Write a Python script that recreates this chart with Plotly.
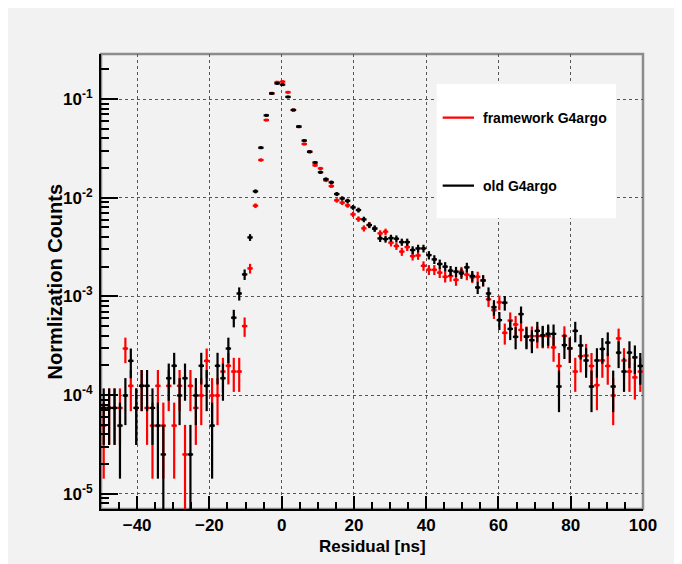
import numpy as np
import plotly.graph_objects as go

# Histogram binning (100 bins, -50 .. 100 ns)
BIN_LO = -50.0
BIN_W = 1.5
N_BINS = 100
UNIT = 2.47e-5  # weight of one entry after normalization (for Poisson error bars)

framework_g4argo = [
    4.9e-5, 7.4e-5, 7.4e-5, 7.4e-5, 2.96e-4, 1.24e-4, 7.4e-5, 1.24e-4, 7.4e-5, 4.9e-5,
    1.24e-4, 4.9e-5, 1.24e-4, 4.9e-5, 1.24e-4, 2.5e-5, 1.24e-4, 7.4e-5, 9.9e-5, 2.22e-4,
    9.9e-5, 9.9e-5, 1.73e-4, 1.98e-4,
    1.73e-4, 1.73e-4, 5.0e-4, 1.92e-3, 8.3e-3, 0.0241, 0.0612, 0.114, 0.148, 0.150,
    0.117, 0.0774, 0.0525, 0.035, 0.0292, 0.0213, 0.0198, 0.0150, 0.0131, 0.0094,
    0.0089, 0.00836, 0.00678, 0.00608, 0.00489, 0.0053, 0.0049, 0.00435, 0.00452, 0.0035,
    0.00324, 0.00284, 0.00316, 0.00256, 0.0026, 0.00204, 0.00186, 0.00186, 0.00174, 0.00158,
    0.00161, 0.00147, 0.00178, 0.00166, 0.00156, 0.00158, 0.00145, 9.33e-4, 7.24e-4, 8.71e-4,
    4.27e-4, 5.69e-4, 5.19e-4, 4.57e-4, 3.96e-4, 3.96e-4, 3.96e-4, 3.96e-4, 3.96e-4, 3.04e-4,
    1.97e-4, 3.98e-4, 2.97e-4, 1.73e-4, 2.48e-4, 2.51e-4, 1.97e-4, 1.26e-4, 2.24e-4, 1.97e-4,
    9.9e-5, 3.75e-4, 2.24e-4, 1.73e-4, 1.51e-4, 1.73e-4,
]

old_g4argo = [
    7.4e-5, 7.4e-5, 7.4e-5, 4.9e-5, 9.9e-5, 2.22e-4, 7.4e-5, 1.24e-4, 1.24e-4, 7.4e-5,
    4.9e-5, 2.5e-5, 1.48e-4, 1.98e-4, 9.9e-5, 1.48e-4, 2.5e-5, 9.9e-5, 1.98e-4, 1.24e-4,
    4.9e-5, 1.98e-4, 1.48e-4, 2.96e-4,
    6.08e-4, 1.07e-3, 1.67e-3, 3.96e-3, 0.0116, 0.0321, 0.0683, 0.114, 0.144, 0.140,
    0.105, 0.0774, 0.0525, 0.0379, 0.0292, 0.0227, 0.0181, 0.0154, 0.0143, 0.0109,
    0.00984, 0.0093, 0.00798, 0.0075, 0.00603, 0.00528, 0.00485, 0.00387, 0.00381, 0.0039,
    0.00384, 0.00355, 0.00355, 0.00295, 0.00306, 0.00306, 0.00262, 0.00237, 0.00213, 0.0020,
    0.00182, 0.00178, 0.00171, 0.00197, 0.00161, 0.00123, 0.00145, 0.00107, 7.76e-4, 5.75e-4,
    8.63e-4, 4.68e-4, 3.89e-4, 6.61e-4, 3.89e-4, 3.6e-4, 4.47e-4, 4.03e-4, 4.17e-4, 4.17e-4,
    1.22e-4, 3.21e-4, 2.97e-4, 4.47e-4, 3.18e-4, 2.24e-4, 1.22e-4, 2.24e-4, 2.93e-4, 3.4e-4,
    1.22e-4, 2.69e-4, 1.73e-4, 2.69e-4, 2.41e-4, 1.97e-4,
]

x_tick_vals = [-40, -20, 0, 20, 40, 60, 80, 100]
y_tick_vals = [1e-5, 1e-4, 1e-3, 1e-2, 1e-1]
y_tick_text = ["10<sup>-5</sup>", "10<sup>-4</sup>", "10<sup>-3</sup>",
               "10<sup>-2</sup>", "10<sup>-1</sup>"]
y_minor_vals = [k * 10.0 ** e for e in range(-6, 0) for k in range(2, 10)]

centers = BIN_LO + BIN_W * (np.arange(N_BINS) + 0.5)
half_w = np.full(N_BINS, BIN_W / 2)

FONT = "Liberation Sans, Arial, Helvetica, sans-serif"


def hist_trace(vals, color, name):
    v = np.array(vals)
    err = np.sqrt(v * UNIT)
    err_minus = np.minimum(err, v - 1e-8)
    return go.Scatter(
        x=centers, y=v, mode="markers", name=name, showlegend=False,
        marker=dict(size=3, color=color, symbol="square"),
        error_x=dict(type="data", array=half_w, symmetric=True,
                     color=color, thickness=2.2, width=0),
        error_y=dict(type="data", array=err, arrayminus=err_minus,
                     symmetric=False, color=color, thickness=2.2, width=0),
    )


fig = go.Figure()
fig.add_trace(hist_trace(framework_g4argo, "#ff0000", "framework G4argo"))
fig.add_trace(hist_trace(old_g4argo, "#000000", "old G4argo"))

BG = "#f2f2f2"
# the html page body adds an 8px offset; the figure is sized to fit the window
fig.update_layout(
    width=674, height=556,
    margin=dict(l=93, r=39, t=46, b=55),
    paper_bgcolor=BG, plot_bgcolor=BG,
    font=dict(family=FONT, size=16, color="black", weight="bold"),
    xaxis=dict(
        range=[-50, 100], tickvals=x_tick_vals,
        ticks="inside", ticklen=13, tickwidth=1.5, tickcolor="black",
        showline=True, linecolor="black", linewidth=2,
        showgrid=True, gridcolor="#555555", gridwidth=1, griddash="dot",
        zeroline=False,
        tickfont=dict(family=FONT, size=17, weight="bold"),
        ticklabelstandoff=0,
        minor=dict(dtick=5, ticks="inside", ticklen=7, tickwidth=1.5,
                   tickcolor="black", showgrid=False),
    ),
    yaxis=dict(
        type="log", range=[np.log10(7.0e-6), np.log10(0.286)],
        tickvals=y_tick_vals, ticktext=y_tick_text,
        ticks="inside", ticklen=17, tickwidth=1.5, tickcolor="black",
        showline=True, linecolor="black", linewidth=2,
        showgrid=True, gridcolor="#555555", gridwidth=1, griddash="dot",
        zeroline=False,
        tickfont=dict(family=FONT, size=17, weight="bold"),
        ticklabelstandoff=3,
        minor=dict(tickmode="array", tickvals=y_minor_vals, ticks="inside",
                   ticklen=8, tickwidth=1.5, tickcolor="black", showgrid=False),
    ),
)

# frame (top/right shaded border)
fig.add_shape(type="rect", xref="paper", yref="paper", x0=0, x1=1, y0=0, y1=1,
              line=dict(color="#8c8c8c", width=2.5), layer="below")

# legend box
fig.add_shape(type="rect", xref="paper", yref="paper",
              x0=0.6194, x1=0.9502, y0=0.6389, y1=0.934,
              fillcolor="white", line=dict(width=0), layer="above")
fig.add_shape(type="line", xref="paper", yref="paper",
              x0=0.6304, x1=0.6882, y0=0.860, y1=0.860,
              line=dict(color="#ff0000", width=2.2), layer="above")
fig.add_shape(type="line", xref="paper", yref="paper",
              x0=0.6304, x1=0.6882, y0=0.7105, y1=0.7105,
              line=dict(color="#000000", width=2.2), layer="above")
fig.add_annotation(xref="paper", yref="paper", x=0.7011, y=0.8587,
                   text="framework G4argo", showarrow=False,
                   xanchor="left", yanchor="middle",
                   font=dict(family=FONT, size=14, weight="bold"))
fig.add_annotation(xref="paper", yref="paper", x=0.7011, y=0.7099,
                   text="old G4argo", showarrow=False,
                   xanchor="left", yanchor="middle",
                   font=dict(family=FONT, size=14, weight="bold"))

# axis titles
fig.add_annotation(xref="paper", yref="paper", x=0.5, y=-0.0835,
                   text="Residual [ns]", showarrow=False,
                   xanchor="center", yanchor="middle",
                   font=dict(family=FONT, size=17, weight="bold"))
fig.add_annotation(xref="paper", yref="paper", x=-0.0867, y=0.5,
                   text="Normlization Counts", showarrow=False, textangle=-90,
                   xanchor="center", yanchor="middle",
                   font=dict(family=FONT, size=20, weight="bold"))

fig.write_html("out.html")
